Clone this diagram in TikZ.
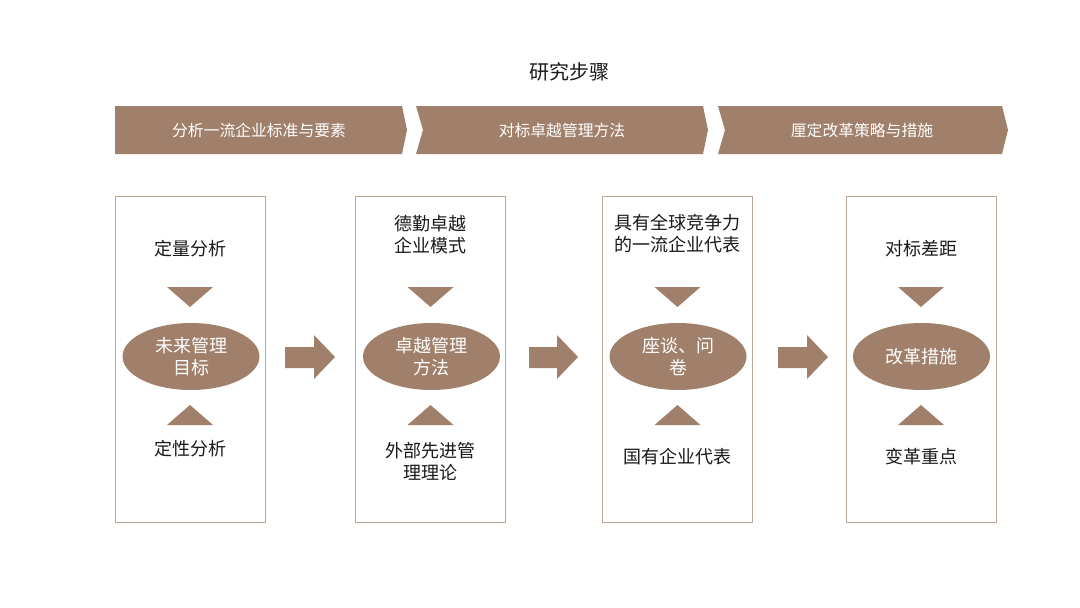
\documentclass[tikz,border=0pt]{standalone}
\usepackage{fontspec}
\setmainfont{Noto Sans CJK SC}
\usetikzlibrary{shapes.geometric}
\definecolor{brownfill}{HTML}{A0806A}
\definecolor{boxline}{HTML}{BCA594}
\definecolor{txtdark}{HTML}{1A1A1A}
\begin{document}
\begin{tikzpicture}[x=1pt,y=-1pt,
  band/.style={fill=brownfill,draw=none},
  bandtxt/.style={text=white,font=\fontsize{15.8}{18}\selectfont,inner sep=0},
  stagebox/.style={draw=boxline,line width=1pt,minimum width=150pt,minimum height=326pt,inner sep=0},
  core/.style={ellipse,fill=brownfill,minimum width=137pt,minimum height=67pt,inner sep=0,text=white,align=center,font=\fontsize{18}{22}\selectfont},
  lbl/.style={text=txtdark,align=center,inner sep=0,font=\fontsize{18}{22}\selectfont},
  tri/.style={fill=brownfill,draw=none},
  bigarrow/.style={fill=brownfill,draw=none}]
\useasboundingbox (0,0) rectangle (1080,608);
\fill[white] (0,0) rectangle (1080,608);
% title
\node[text=txtdark,font=\fontsize{20}{22}\selectfont,inner sep=0] (title) at (569,72) {研究步骤};
% chevron bands
\fill[band] (115,106) -- (402,106) -- (407,130) -- (402,154) -- (115,154) -- cycle;
\fill[band] (416,106) -- (703,106) -- (708,130) -- (703,154) -- (416,154) -- (423,130) -- cycle;
\fill[band] (718,106) -- (1002,106) -- (1008,130) -- (1002,154) -- (718,154) -- (725,130) -- cycle;
\node[bandtxt] (s1) at (259,130) {分析一流企业标准与要素};
\node[bandtxt] (s2) at (562,130) {对标卓越管理方法};
\node[bandtxt] (s3) at (862,130) {厘定改革策略与措施};
% boxes
\node[stagebox] (b1) at (190,359) {};
\node[stagebox] (b2) at (430.5,359) {};
\node[stagebox] (b3) at (677.5,359) {};
\node[stagebox] (b4) at (921.5,359) {};
% triangles
\foreach \cx in {190,430.5,677.5,921} {
  \fill[tri] (\cx-23,287) -- (\cx+23,287) -- (\cx,307) -- cycle;
  \fill[tri] (\cx-23,425) -- (\cx+23,425) -- (\cx,405) -- cycle;
}
% ellipses
\node[core] (e1) at (191,356.5) {未来管理\\目标};
\node[core] (e2) at (431.5,356.5) {卓越管理\\方法};
\node[core] (e3) at (678,356.5) {座谈、问\\卷};
\node[core] (e4) at (921.5,356.5) {改革措施};
% labels
\node[lbl] (t1) at (190,249) {定量分析};
\node[lbl] (u1) at (190,449) {定性分析};
\node[lbl] (t2) at (430.5,235) {德勤卓越\\企业模式};
\node[lbl] (u2) at (430.5,461) {外部先进管\\理理论};
\node[lbl] (t3) at (677.5,234) {具有全球竞争力\\的一流企业代表};
\node[lbl] (u3) at (677.5,457) {国有企业代表};
\node[lbl] (t4) at (921,249) {对标差距};
\node[lbl] (u4) at (921,457) {变革重点};
% arrows between boxes
\foreach \xa/\xh/\xt in {285/314/335, 529/557/578, 778/807/828} {
  \fill[bigarrow] (\xa,347) -- (\xh,347) -- (\xh,335) -- (\xt,357) -- (\xh,379) -- (\xh,368) -- (\xa,368) -- cycle;
}
\end{tikzpicture}
\end{document}
